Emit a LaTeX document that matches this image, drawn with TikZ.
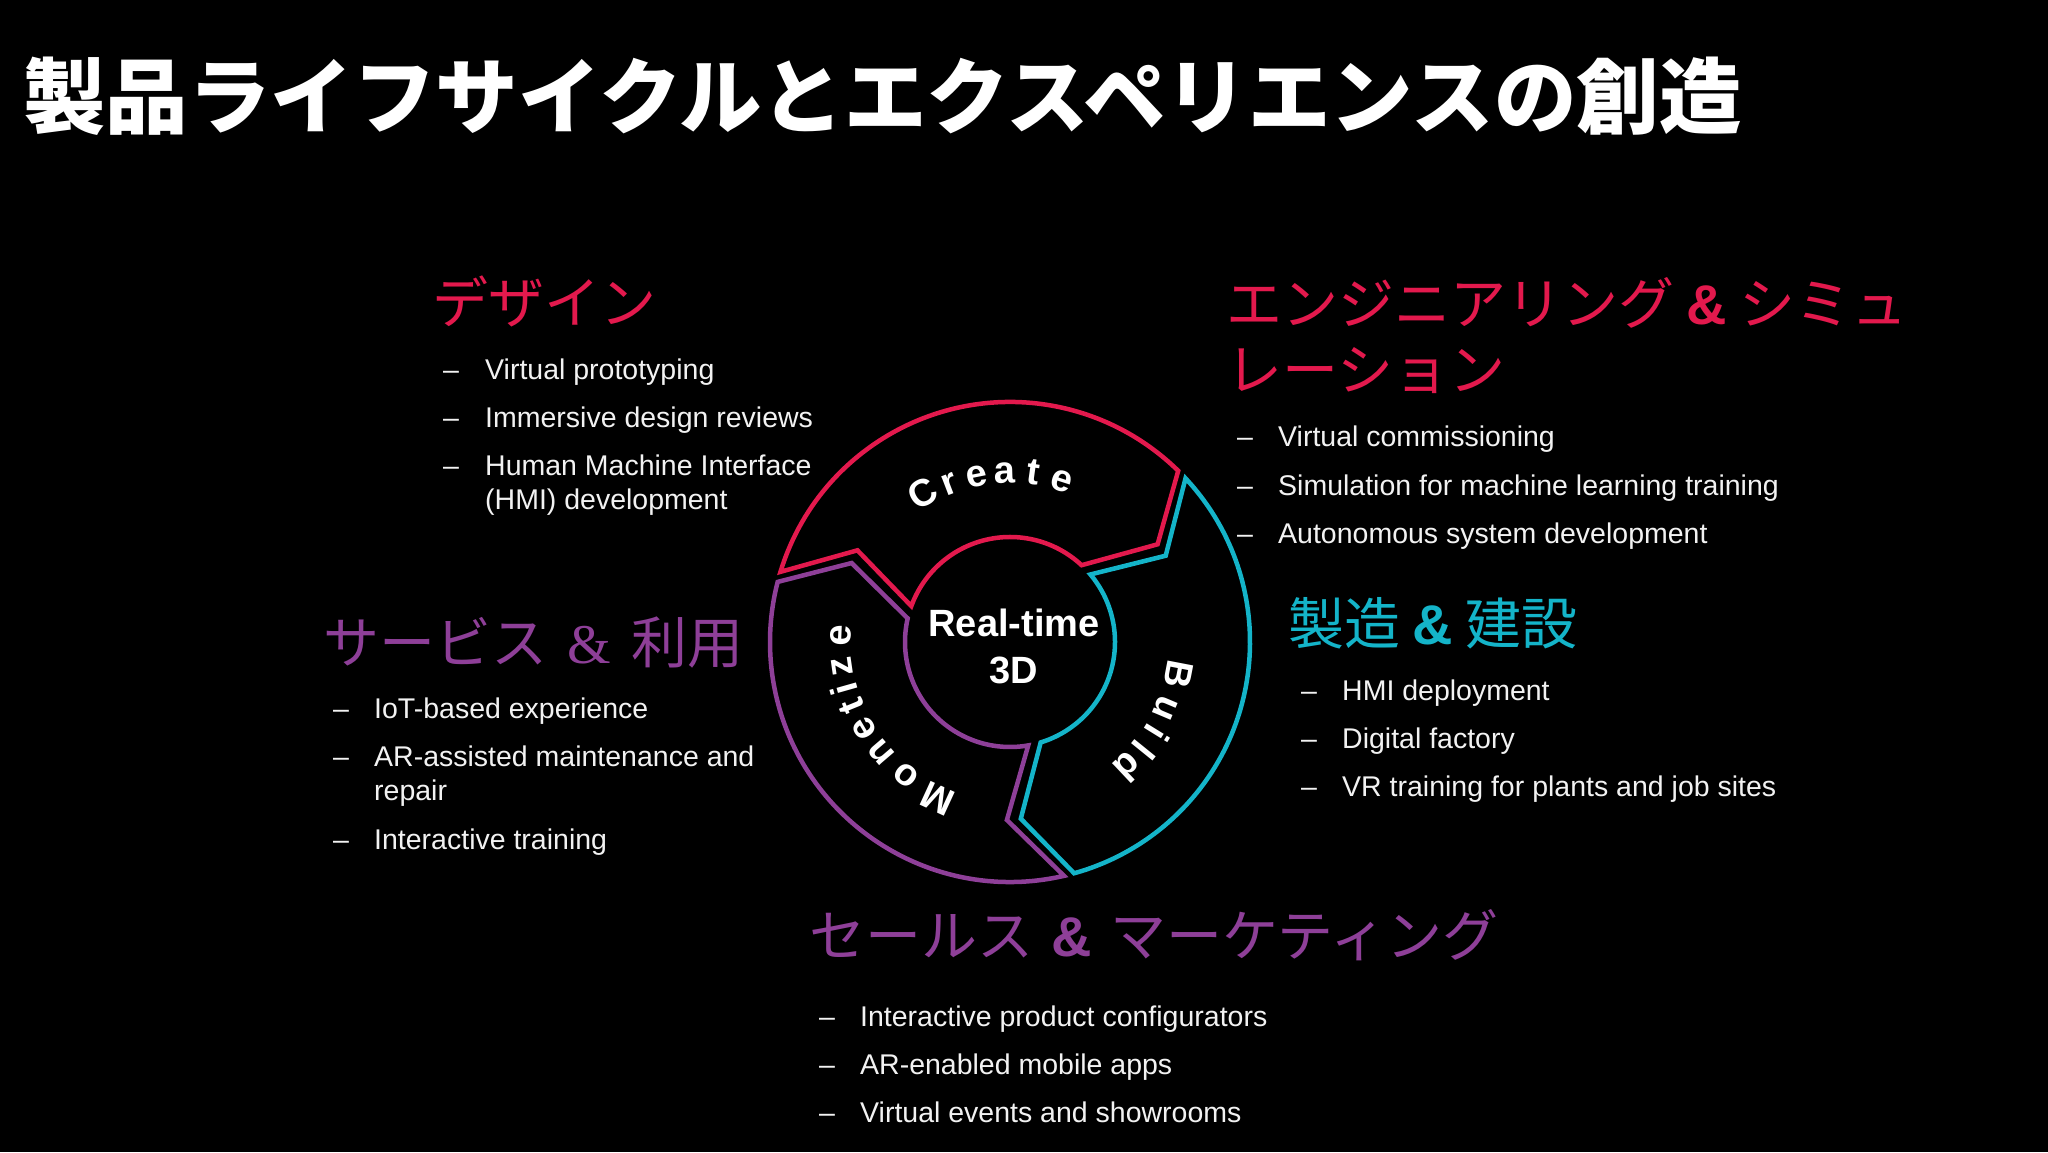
\documentclass[tikz,border=0pt]{standalone}
\usepackage{fontspec}
\setmainfont{Liberation Sans}
\newfontfamily\jp{Noto Sans CJK JP}
\newfontfamily\ampserif{Liberation Serif}
\definecolor{cred}{HTML}{E3194D}
\definecolor{ccyan}{HTML}{14B4C9}
\definecolor{cpurple}{HTML}{8E3F98}
\definecolor{ctext}{HTML}{F2F2F2}
\tikzset{
  body/.style={anchor=base west, inner sep=0pt, text=ctext, font=\fontsize{28.5}{34}\selectfont},
  head/.style={anchor=base west, inner sep=0pt, font=\jp\fontsize{56}{64}\selectfont},
  ring/.style={line width=4.5pt},
  ltr/.style={inner sep=0pt, anchor=base, text=white, font=\bfseries\fontsize{38}{40}\selectfont},
  core/.style={inner sep=0pt, anchor=base, text=white, font=\bfseries\fontsize{38}{44}\selectfont}
}
\newcommand{\bamp}{{\fontspec{Liberation Sans}\bfseries\&}}
\begin{document}
\begin{tikzpicture}[x=1pt,y=1pt]
\fill[black] (0,0) rectangle (2048,1152);
\useasboundingbox (0,0) rectangle (2048,1152);

% title
\node[anchor=base west, inner sep=0pt, text=white, font=\jp\bfseries\fontsize{82.5}{90}\selectfont] (title) at (23,1024) {製品ライフサイクルとエクスペリエンスの創造};

% cycle
\begin{scope}[shift={(1010,510)}]
  \begin{scope}
    \draw[ring, cred] (163:240) arc[start angle=163, end angle=45.5, radius=240] -- (33.5:177) -- (47:105) arc[start angle=47, end angle=160, radius=105] -- (149:178) -- cycle;
  \end{scope}
  \begin{scope}[rotate=-120]
    \draw[ring, ccyan] (163:240) arc[start angle=163, end angle=45.5, radius=240] -- (33.5:177) -- (47:105) arc[start angle=47, end angle=160, radius=105] -- (149:178) -- cycle;
  \end{scope}
  \begin{scope}[rotate=-240]
    \draw[ring, cpurple] (163:240) arc[start angle=163, end angle=45.5, radius=240] -- (33.5:177) -- (47:105) arc[start angle=47, end angle=160, radius=105] -- (149:178) -- cycle;
  \end{scope}
  \foreach \a/\l [count=\i] in {120.4/C,111/r,101.4/e,91.7/a,82/t,72.1/e}
    \node[ltr, rotate=\a-90] (cr\i) at (\a:159) {\l};
  \foreach \a/\l [count=\i] in {-10.9/B,-23/u,-31.7/i,-39/l,-46.8/d}
    \node[ltr, rotate=\a-90] (bu\i) at (\a:159) {\l};
  \foreach \a/\l [count=\i] in {245.3/M,232.3/o,220.6/n,210.6/e,202.2/t,195.8/i,188.2/z,177.7/e}
    \node[ltr, rotate=\a-90] (mo\i) at (\a:159) {\l};
  \node[core] (rt1) at (4,5) {Real-time};
  \node[core] (rt2) at (4,-42) {3D};
\end{scope}

% Design
\node[head, text=cred] (hd) at (432,828) {デザイン};
\node[body] (dd1) at (443,772) {–};
\node[body] (dt1) at (485,772) {Virtual prototyping};
\node[body] (dd2) at (443,724) {–};
\node[body] (dt2) at (485,724) {Immersive design reviews};
\node[body] (dd3) at (443,676) {–};
\node[body] (dt3) at (485,676) {Human Machine Interface};
\node[body] (dt3b) at (485,642) {(HMI) development};

% Engineering
\node[head, text=cred] (he1) at (1226,827) {エンジニアリング \bamp{} シミュ};
\node[head, text=cred] (he2) at (1226,761) {レーション};
\node[body] (ed1) at (1237,705) {–};
\node[body] (et1) at (1278,705) {Virtual commissioning};
\node[body] (ed2) at (1237,656) {–};
\node[body] (et2) at (1278,656) {Simulation for machine learning training};
\node[body] (ed3) at (1237,608) {–};
\node[body] (et3) at (1278,608) {Autonomous system development};

% Manufacturing
\node[head, text=ccyan] (hm) at (1288,507) {製造 \bamp{} 建設};
\node[body] (md1) at (1301,451) {–};
\node[body] (mt1) at (1342,451) {HMI deployment};
\node[body] (md2) at (1301,403) {–};
\node[body] (mt2) at (1342,403) {Digital factory};
\node[body] (md3) at (1301,355) {–};
\node[body] (mt3) at (1342,355) {VR training for plants and job sites};

% Service
\node[head, text=cpurple] (hs) at (323,488) {サービス\hspace{8pt} {\ampserif\&}\hspace{8pt} 利用};
\node[body] (sd1) at (333,433) {–};
\node[body] (st1) at (374,433) {IoT-based experience};
\node[body] (sd2) at (333,385) {–};
\node[body] (st2) at (374,385) {AR-assisted maintenance and};
\node[body] (st2b) at (374,351) {repair};
\node[body] (sd3) at (333,302) {–};
\node[body] (st3) at (374,302) {Interactive training};

% Sales
\node[head, text=cpurple] (hsl) at (809,196) {セールス\hspace{6pt} \bamp{}\hspace{6pt} マーケティング};
\node[body] (ld1) at (819,126) {–};
\node[body] (lt1) at (860,126) {Interactive product configurators};
\node[body] (ld2) at (819,78) {–};
\node[body] (lt2) at (860,78) {AR-enabled mobile apps};
\node[body] (ld3) at (819,30) {–};
\node[body] (lt3) at (860,30) {Virtual events and showrooms};
\end{tikzpicture}
\end{document}
